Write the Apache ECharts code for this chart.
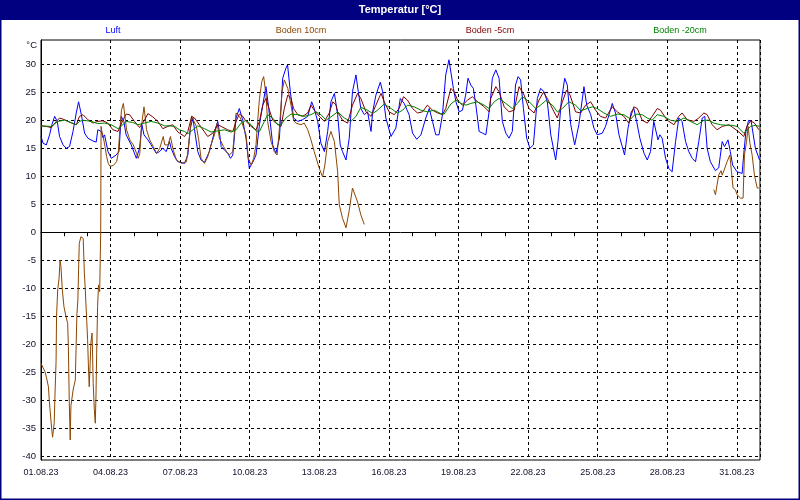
<!DOCTYPE html>
<html><head><meta charset="utf-8">
<script src="https://cdn.jsdelivr.net/npm/echarts@6/dist/echarts.min.js"></script>
<style>html,body{margin:0;padding:0;background:#fff}#c{width:800px;height:500px}</style>
</head><body><div id="c"></div>
<script>
// ---- data (x = days since 01.08.23 00:00, y = °C) ----
const seriesNames = ['Luft', 'Boden 10cm', 'Boden -5cm', 'Boden -20cm'];
const xTickDays = [0,1,2,3,4,5,6,7,8,9,10,11,12,13,14,15,16,17,18,19,20,21,22,23,24,25,26,27,28,29,30,31];
const xLabelDays = [0,3,6,9,12,15,18,21,24,27,30];
const yTickValues = [-40,-35,-30,-25,-20,-15,-10,-5,0,5,10,15,20,25,30];

const luft = [[0,17.1],[0.09,15.9],[0.23,15.6],[0.37,17.4],[0.47,19.2],[0.59,20.7],[0.70,19.8],[0.80,17.1],[0.95,15.6],[1.09,15.0],[1.23,15.3],[1.38,18.0],[1.52,21.3],[1.62,23.3],[1.74,21.0],[1.88,17.7],[2.02,16.8],[2.24,16.3],[2.38,16.1],[2.45,18.3],[2.60,18.0],[2.67,16.9],[2.74,17.4],[2.89,14.4],[3.03,13.2],[3.24,13.8],[3.36,14.4],[3.46,20.7],[3.57,19.8],[3.67,17.4],[3.89,15.6],[4.11,13.2],[4.25,15.0],[4.35,19.2],[4.44,17.4],[4.61,16.5],[4.75,15.6],[4.97,14.1],[5.11,14.4],[5.25,15.0],[5.40,14.4],[5.54,16.2],[5.61,15.0],[5.76,13.5],[5.90,12.6],[6.19,12.3],[6.33,13.8],[6.44,18.6],[6.55,20.4],[6.62,18.3],[6.76,14.4],[6.90,12.9],[7.05,12.5],[7.26,14.4],[7.48,18.0],[7.62,19.8],[7.69,18.0],[7.77,15.3],[7.91,14.7],[8.05,14.1],[8.17,13.2],[8.27,13.8],[8.41,20.4],[8.55,22.1],[8.70,20.0],[8.84,16.8],[8.98,11.4],[9.13,12.5],[9.27,13.8],[9.42,19.2],[9.56,22.7],[9.70,26.0],[9.82,22.1],[9.99,15.6],[10.13,14.1],[10.28,16.8],[10.42,27.5],[10.56,29.3],[10.63,29.9],[10.75,25.1],[10.89,20.4],[11.07,19.8],[11.28,20.1],[11.50,20.7],[11.67,23.3],[11.78,22.1],[11.93,19.8],[12.07,15.9],[12.22,14.4],[12.36,18.0],[12.50,23.3],[12.65,24.8],[12.79,21.0],[12.90,15.6],[13.0,14.4],[13.15,12.9],[13.29,16.8],[13.43,25.1],[13.58,28.1],[13.68,25.1],[13.79,22.1],[13.94,21.0],[14.08,21.5],[14.23,18.0],[14.30,21.5],[14.44,24.5],[14.63,26.8],[14.73,25.1],[14.87,20.4],[15.09,17.1],[15.30,18.6],[15.49,23.9],[15.66,23.0],[15.87,21.0],[16.02,17.7],[16.20,16.6],[16.38,17.4],[16.59,20.4],[16.74,22.1],[16.88,19.8],[17.02,17.4],[17.16,17.4],[17.31,21.0],[17.45,28.1],[17.59,30.8],[17.67,31.0],[17.78,25.7],[17.89,23.3],[18.03,21.5],[18.17,21.8],[18.31,24.5],[18.41,27.5],[18.53,26.3],[18.64,25.7],[18.75,22.7],[18.89,18.0],[19.04,17.7],[19.18,17.4],[19.25,17.7],[19.36,22.7],[19.46,27.5],[19.61,29.0],[19.75,27.5],[19.89,19.8],[20.04,17.7],[20.18,16.8],[20.32,18.0],[20.46,26.3],[20.57,27.8],[20.68,27.2],[20.80,22.1],[20.94,16.8],[21.08,15.0],[21.23,15.6],[21.40,23.9],[21.54,25.7],[21.69,25.1],[21.83,23.3],[21.98,17.4],[22.19,12.9],[22.29,16.2],[22.43,23.3],[22.58,27.5],[22.69,26.3],[22.84,19.2],[23.01,15.6],[23.19,19.2],[23.41,26.0],[23.53,22.7],[23.70,21.0],[23.84,18.6],[23.98,17.4],[24.20,17.7],[24.34,18.9],[24.49,21.0],[24.63,23.0],[24.77,21.3],[24.92,17.4],[25.06,15.3],[25.16,13.8],[25.31,18.6],[25.45,21.5],[25.56,22.1],[25.68,19.8],[25.82,16.8],[26.0,14.1],[26.14,12.9],[26.28,14.4],[26.42,19.8],[26.49,20.1],[26.60,16.5],[26.68,17.4],[26.78,16.8],[26.93,13.2],[27.07,11.4],[27.21,10.8],[27.36,16.2],[27.50,20.4],[27.64,19.8],[27.79,16.2],[27.93,14.4],[28.08,13.2],[28.22,12.6],[28.36,16.2],[28.51,20.4],[28.62,20.7],[28.72,15.0],[28.86,12.6],[29.08,11.0],[29.22,11.5],[29.37,16.2],[29.47,15.3],[29.62,16.5],[29.72,14.4],[29.82,12.0],[30.01,10.8],[30.23,10.5],[30.30,14.0],[30.40,18.3],[30.51,20.0],[30.62,19.8],[30.80,15.0],[30.98,12.9]];

const boden10 = [[0,-23.4],[0.07,-23.7],[0.17,-24.9],[0.24,-26.0],[0.32,-27.6],[0.36,-30.2],[0.39,-31.7],[0.47,-35.5],[0.50,-36.6],[0.57,-34.0],[0.60,-29.4],[0.65,-23.1],[0.67,-15.1],[0.72,-10.3],[0.78,-8.2],[0.82,-5.0],[0.86,-6.1],[0.92,-10.3],[0.99,-13.3],[1.08,-15.1],[1.15,-16.3],[1.18,-20.4],[1.22,-30.5],[1.26,-37.1],[1.29,-31.0],[1.39,-28.0],[1.48,-26.4],[1.51,-21.0],[1.55,-14.5],[1.59,-12.1],[1.62,-6.7],[1.65,-2.0],[1.72,-0.8],[1.82,-1.1],[1.87,-7.3],[1.91,-10.3],[1.97,-15.7],[2.01,-19.2],[2.05,-24.6],[2.08,-27.6],[2.12,-23.4],[2.15,-19.8],[2.20,-18.0],[2.22,-21.0],[2.25,-27.0],[2.30,-31.7],[2.34,-34.1],[2.37,-29.4],[2.40,-21.6],[2.44,-13.3],[2.48,-9.4],[2.53,-10.6],[2.575,0.4],[2.59,18.9],[2.61,18.3],[2.68,17.1],[2.76,15.3],[2.83,13.5],[2.90,12.3],[2.97,11.8],[3.11,11.9],[3.26,12.6],[3.33,14.1],[3.40,18.3],[3.47,21.8],[3.55,23.0],[3.62,20.7],[3.69,18.3],[3.83,16.5],[3.98,15.6],[4.12,14.1],[4.19,13.2],[4.26,14.1],[4.33,18.9],[4.44,22.4],[4.51,20.0],[4.55,18.3],[4.69,16.5],[4.84,15.3],[4.98,14.1],[5.12,15.0],[5.27,17.1],[5.34,15.6],[5.48,15.6],[5.58,17.1],[5.70,14.7],[5.84,12.9],[6.06,12.3],[6.27,12.6],[6.34,14.7],[6.49,20.7],[6.56,21.0],[6.70,18.9],[6.80,16.5],[6.90,13.2],[7.05,12.3],[7.19,13.5],[7.33,15.6],[7.48,17.4],[7.60,19.5],[7.69,16.8],[7.87,15.3],[8.0,14.4],[8.12,13.8],[8.27,14.4],[8.41,21.3],[8.48,21.5],[8.6,20.4],[8.74,18.6],[8.84,17.4],[8.94,13.2],[9.06,12.0],[9.17,13.2],[9.27,15.6],[9.34,19.8],[9.42,23.9],[9.52,26.9],[9.60,27.8],[9.70,24.5],[9.77,19.8],[9.92,16.2],[10.06,14.4],[10.18,13.8],[10.28,18.6],[10.39,25.1],[10.49,27.2],[10.64,25.7],[10.78,22.7],[10.89,20.0],[10.99,19.5],[11.21,19.2],[11.35,19.5],[11.50,18.3],[11.64,16.5],[11.78,14.4],[12.0,11.4],[12.14,9.9],[12.24,12.0],[12.36,16.2],[12.50,18.0],[12.65,16.2],[12.79,10.8],[12.86,4.9],[13.0,2.5],[13.15,0.8],[13.29,3.9],[13.43,7.9],[13.50,8.2],[13.65,5.4],[13.79,3.1],[13.94,1.4],[14.0,null],[29.01,7.6],[29.08,6.7],[29.15,8.5],[29.22,10.2],[29.32,11.0],[29.37,10.2],[29.47,11.3],[29.58,12.6],[29.70,13.8],[29.77,10.8],[29.84,7.9],[29.94,7.6],[30.01,6.7],[30.16,6.1],[30.27,6.1],[30.33,13.8],[30.42,16.2],[30.49,18.9],[30.56,16.0],[30.66,13.8],[30.76,10.2],[30.88,7.9],[30.95,7.9]];

const boden5 = [[0,19.0],[0.23,18.9],[0.44,18.7],[0.66,19.8],[0.80,20.4],[1.02,20.1],[1.31,19.5],[1.52,19.2],[1.66,20.7],[1.81,21.0],[2.02,20.1],[2.24,19.5],[2.45,19.8],[2.67,19.9],[2.88,19.5],[3.10,18.3],[3.32,18.0],[3.53,20.0],[3.67,21.1],[3.82,21.0],[4.03,19.8],[4.25,18.7],[4.46,20.0],[4.61,21.2],[4.82,20.6],[5.04,19.8],[5.25,18.5],[5.47,18.9],[5.68,19.2],[5.90,17.9],[6.19,17.1],[6.33,18.0],[6.50,20.7],[6.62,20.4],[6.83,19.2],[7.19,17.1],[7.41,17.7],[7.62,19.2],[7.77,18.9],[8.05,18.3],[8.27,18.0],[8.41,19.8],[8.55,21.1],[8.70,20.7],[8.84,19.8],[9.06,18.9],[9.27,18.3],[9.42,19.8],[9.56,22.7],[9.70,23.9],[9.85,21.8],[9.99,20.0],[10.13,19.5],[10.35,18.9],[10.49,22.1],[10.64,24.5],[10.78,23.9],[10.89,22.1],[11.07,21.0],[11.28,20.7],[11.50,21.3],[11.64,22.7],[11.78,21.8],[12.0,20.7],[12.22,19.8],[12.43,21.3],[12.58,23.3],[12.72,22.7],[12.79,21.5],[13.0,20.0],[13.22,19.5],[13.43,22.7],[13.65,24.8],[13.79,23.9],[14.01,21.5],[14.23,20.7],[14.44,22.7],[14.66,24.8],[14.80,23.3],[15.01,21.5],[15.23,21.0],[15.44,22.1],[15.63,24.2],[15.80,23.6],[16.02,22.1],[16.23,21.3],[16.45,21.5],[16.66,22.7],[16.88,21.8],[17.10,21.3],[17.31,21.0],[17.45,22.1],[17.67,25.7],[17.81,25.1],[17.96,23.6],[18.17,22.7],[18.39,23.6],[18.60,24.2],[18.82,23.3],[19.11,22.4],[19.32,21.5],[19.39,23.9],[19.61,26.0],[19.75,25.1],[19.97,22.4],[20.18,21.5],[20.40,21.8],[20.61,26.0],[20.83,24.5],[21.04,22.1],[21.26,21.3],[21.47,23.6],[21.66,25.0],[21.83,23.9],[22.12,21.5],[22.26,20.4],[22.48,23.3],[22.66,25.4],[22.81,24.5],[23.05,21.5],[23.27,21.3],[23.48,22.7],[23.70,23.3],[23.91,21.8],[24.12,20.7],[24.34,20.4],[24.63,22.4],[24.85,21.5],[25.13,20.7],[25.34,19.5],[25.56,22.4],[25.71,22.1],[25.92,20.0],[26.14,19.5],[26.35,20.7],[26.57,22.1],[26.71,21.8],[27.0,20.0],[27.29,19.2],[27.50,20.7],[27.64,21.3],[27.86,20.1],[28.15,19.8],[28.36,20.4],[28.58,21.3],[28.72,21.0],[28.94,19.2],[29.15,18.3],[29.37,18.9],[29.66,19.2],[29.87,18.6],[30.09,17.9],[30.30,17.1],[30.44,18.9],[30.59,19.9],[30.76,19.5],[30.95,18.3]];

const boden20 = [[0,19.0],[0.44,18.9],[0.73,19.8],[1.02,20.0],[1.31,19.6],[1.52,19.2],[1.66,19.8],[1.81,20.0],[2.17,19.8],[2.45,19.4],[2.74,19.5],[3.03,19.2],[3.32,18.5],[3.53,19.2],[3.67,19.8],[3.96,19.6],[4.18,19.2],[4.46,19.5],[4.75,19.8],[5.04,19.5],[5.33,19.0],[5.54,19.0],[5.76,18.9],[5.97,18.3],[6.19,18.0],[6.33,17.6],[6.55,18.3],[6.76,19.0],[7.05,18.5],[7.33,17.9],[7.62,18.1],[7.91,18.3],[8.20,17.9],[8.41,18.3],[8.63,19.5],[8.84,20.0],[9.06,19.2],[9.27,18.1],[9.42,18.0],[9.63,19.8],[9.77,21.0],[9.99,20.4],[10.2,19.2],[10.35,19.2],[10.56,20.4],[10.78,21.1],[11.07,21.0],[11.35,20.7],[11.64,21.0],[11.86,21.5],[12.07,21.0],[12.29,20.0],[12.5,20.6],[12.79,21.5],[13.08,20.4],[13.36,19.8],[13.58,20.7],[13.79,22.3],[14.08,21.8],[14.30,21.2],[14.51,21.8],[14.80,22.9],[15.09,22.1],[15.37,21.3],[15.59,21.8],[15.80,22.7],[16.09,22.4],[16.38,21.8],[16.66,21.5],[16.95,21.8],[17.23,21.2],[17.38,21.1],[17.67,22.9],[17.89,23.6],[18.10,23.0],[18.32,22.7],[18.53,23.0],[18.82,23.3],[19.11,22.7],[19.32,22.1],[19.54,23.3],[19.75,23.9],[20.04,23.0],[20.32,22.1],[20.54,23.0],[20.76,24.2],[21.05,23.3],[21.33,22.1],[21.54,22.7],[21.76,23.5],[22.05,22.7],[22.26,21.5],[22.48,22.1],[22.76,23.3],[23.05,22.7],[23.27,21.7],[23.55,22.1],[23.77,22.4],[23.98,22.1],[24.27,21.3],[24.56,20.7],[24.85,21.1],[25.13,21.0],[25.42,20.2],[25.63,21.1],[25.71,21.3],[25.92,21.0],[26.14,20.4],[26.35,20.0],[26.57,21.0],[26.85,20.7],[27.14,20.0],[27.43,19.8],[27.72,20.4],[28.0,19.8],[28.29,19.2],[28.58,20.0],[28.79,20.0],[29.01,19.5],[29.3,19.2],[29.58,19.1],[29.8,19.1],[30.01,18.9],[30.3,17.7],[30.59,18.9],[30.8,19.1],[30.98,18.9]];

// ---- styling ----
const colors = ['#0000ff', '#8c4600', '#800000', '#008000'];
const navy = '#000080';
const txt = '#10102c';
const font = 'Liberation Sans';
const gridDash = {color: '#000', width: 1, type: [3, 3]};

const chart = echarts.init(document.getElementById('c'), null, {renderer: 'canvas'});
const fmtDay = v => String(Math.round(v) + 1).padStart(2, '0') + '.08.23';
const dataSets = [luft, boden10, boden5, boden20];
const legendX = [113, 301, 490, 680];

const option = {
  animation: false,
  backgroundColor: '#fff',
  grid: {left: 41, right: 40, top: 40, bottom: 40, show: true, borderColor: '#000', borderWidth: 1},
  xAxis: [{
    type: 'value', min: 0, max: 31,
    axisLine: {show: true, lineStyle: {color: '#000', width: 1}},
    axisTick: {show: true, customValues: xTickDays, length: 4, lineStyle: {color: '#000'}},
    axisLabel: {customValues: xLabelDays, formatter: fmtDay, color: txt, fontSize: 9, fontFamily: font, margin: 8},
    splitLine: {show: false}
  }, {
    type: 'value', min: 0, max: 31, interval: 3, position: 'bottom',
    axisLine: {show: false}, axisTick: {show: false}, axisLabel: {show: false},
    splitLine: {show: true, lineStyle: gridDash}
  }],
  yAxis: {
    type: 'value', min: -40.667, max: 34.333,
    axisLine: {show: true, lineStyle: {color: '#000', width: 1}},
    axisTick: {show: false, customValues: yTickValues},
    axisLabel: {customValues: yTickValues, color: txt, fontSize: 9.5, fontFamily: font, margin: 5},
    splitLine: {show: true, lineStyle: gridDash}
  },
  series: dataSets.map((d, i) => ({
    name: seriesNames[i], type: 'line', xAxisIndex: 0, data: d,
    showSymbol: false, symbol: 'none', connectNulls: false, silent: true,
    lineStyle: {color: colors[i], width: 1}, itemStyle: {color: colors[i]}
  })),
  graphic: [
    {type: 'rect', shape: {x: 0, y: 0, width: 800, height: 20}, style: {fill: navy}, silent: true},
    {type: 'text', x: 400, y: 10, style: {text: 'Temperatur [°C]', fill: '#fff', font: 'bold 11px "Liberation Sans"', textAlign: 'center', textVerticalAlign: 'middle', verticalAlign: 'middle'}, silent: true},
    ...seriesNames.map((n, i) => ({type: 'text', x: legendX[i], y: 31, style: {text: n, fill: colors[i], font: '9px "Liberation Sans"', textAlign: 'center', textVerticalAlign: 'middle', verticalAlign: 'middle'}, silent: true})),
    {type: 'text', x: 37, y: 45, style: {text: '°C', fill: txt, font: '9.5px "Liberation Sans"', textAlign: 'right', textVerticalAlign: 'middle', verticalAlign: 'middle'}, silent: true},
    {type: 'rect', shape: {x: 0.75, y: 0.75, width: 798.5, height: 498.5}, style: {fill: 'none', stroke: navy, lineWidth: 1.5}, silent: true, z: 100}
  ]
};
chart.setOption(option);
</script>
</body></html>
